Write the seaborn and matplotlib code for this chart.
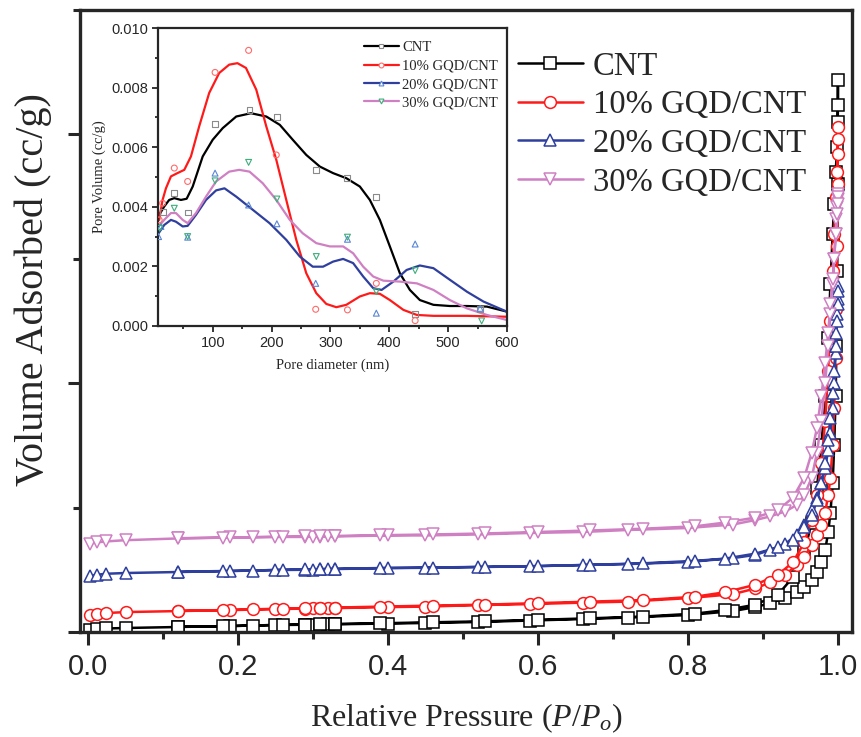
import numpy as np
import pandas as pd
import seaborn as sns
import matplotlib.pyplot as plt
import matplotlib.ticker as tick
from matplotlib.lines import Line2D

# ---- main isotherm data (relative pressure, volume adsorbed; arbitrary units) ----
p_ads = [0.003, 0.012, 0.024, 0.05, 0.12, 0.19, 0.25, 0.29, 0.30, 0.31, 0.32, 0.33,
         0.40, 0.45, 0.52, 0.59, 0.66, 0.72, 0.80, 0.86, 0.89, 0.91, 0.93, 0.945,
         0.955, 0.965, 0.972, 0.978, 0.983, 0.987, 0.99, 0.993, 0.995, 0.997, 0.998,
         0.999, 0.9995, 1.0]
p_des = [1.0, 0.9995, 0.999, 0.997, 0.995, 0.993, 0.99, 0.987, 0.983, 0.978, 0.972,
         0.965, 0.955, 0.94, 0.92, 0.89, 0.85, 0.81, 0.74, 0.67, 0.60, 0.53, 0.46,
         0.39, 0.33, 0.31, 0.29, 0.26, 0.22, 0.18, 0.12]

cnt_ads = [0.8, 1.2, 1.4, 1.6, 2.0, 2.4, 2.8, 2.9, 3.0, 3.0, 3.1, 3.1, 3.4, 3.6, 4.0,
           4.6, 5.2, 5.8, 6.8, 8.4, 10.0, 11.6, 13.8, 16, 18, 21, 24, 28, 33, 40, 48,
           60, 75, 95, 115, 145, 180, 222]
cnt_des = [212, 205, 195, 185, 172, 160, 140, 118, 95, 75, 58, 44, 32, 22, 15, 11,
           8.8, 7.4, 6.2, 5.5, 4.9, 4.3, 3.9, 3.5, 3.2, 3.1, 3.0, 2.9, 2.6, 2.3, 2.1]

g10_ads = [6.8, 7.2, 7.6, 8.0, 8.4, 8.8, 9.2, 9.4, 9.5, 9.5, 9.6, 9.6, 10.0, 10.2,
           10.8, 11.2, 11.8, 12.2, 13.6, 15.2, 17.5, 20, 23, 27, 30, 35, 39, 43, 48,
           55, 62, 75, 90, 110, 130, 155, 180, 203]
g10_des = [198, 192, 185, 175, 160, 145, 125, 105, 85, 68, 55, 45, 36, 28, 23, 19,
           16, 14.2, 12.8, 12.2, 11.6, 11.0, 10.6, 10.2, 9.8, 9.7, 9.6, 9.4, 9.1, 8.8, 8.5]

g20_ads = [22.5, 23.0, 23.4, 23.7, 24.1, 24.5, 24.9, 25.0, 25.1, 25.2, 25.3, 25.3,
           25.7, 25.8, 26.1, 26.4, 26.9, 27.3, 28.1, 29.7, 31, 33, 35.5, 39, 43, 49,
           54, 60, 66, 73, 80, 90, 100, 112, 120, 128, 134, 139]
g20_des = [137, 132, 125, 115, 105, 96, 86, 77, 68, 60, 53, 47, 42, 37, 34, 31.5,
           29.5, 28.6, 27.6, 27.0, 26.5, 26.2, 25.9, 25.7, 25.4, 25.3, 25.2, 25.0,
           24.7, 24.5, 24.2]

g30_ads = [35.5, 36.0, 36.4, 36.9, 37.6, 38.0, 38.2, 38.2, 38.3, 38.3, 38.4, 38.4,
           38.8, 38.8, 39.2, 39.8, 40.2, 41.0, 41.8, 43.2, 45, 46.5, 48.5, 51, 55, 62,
           72, 85, 100, 115, 128, 140, 150, 160, 166, 171, 174, 176]
g30_des = [175, 172, 168, 160, 150, 142, 132, 120, 108, 95, 82, 72, 62, 54, 49, 46,
           44, 42.5, 41.5, 40.8, 40.2, 39.6, 39.2, 38.9, 38.6, 38.5, 38.4, 38.3, 38.1,
           37.9, 37.7]

labels = ["CNT", "10% GQD/CNT", "20% GQD/CNT", "30% GQD/CNT"]
colors = ["#000000", "#ff1a1a", "#2e3f9e", "#cf80c2"]
markers = ["s", "o", "^", "v"]

# ---- inset: pore size distribution ----
# measured points
d_cnt = [14.8, 34.7, 57.4, 104, 162.5, 209, 276, 328, 378, 444, 554.5]
v_cnt = [0.00384, 0.00446, 0.00381, 0.00678, 0.00726, 0.00701, 0.00522, 0.00496,
         0.00434, 0.00039, 0.00056]
d_g10 = [9, 14.8, 34.7, 57.4, 104, 161, 208, 275, 329, 378, 444]
v_g10 = [0.00356, 0.00412, 0.0053, 0.00485, 0.00851, 0.00925, 0.00574, 0.00056,
         0.00054, 0.00143, 0.00018]
d_g20 = [8, 12, 57.4, 104, 161, 209, 275, 329, 378, 444, 554.5]
v_g20 = [0.0030, 0.00334, 0.00298, 0.00513, 0.00406, 0.00343, 0.00143, 0.00291,
         0.00043, 0.00275, 0.00059]
d_g30 = [10, 34.7, 57.4, 104, 161, 209, 276, 329, 378, 444, 557]
v_g30 = [0.00328, 0.00395, 0.0030, 0.00487, 0.00549, 0.00426, 0.00233, 0.00298,
         0.00115, 0.00186, 0.00017]

# smoothed curves
cd_cnt = [9, 17.6, 26, 34.7, 46, 55.7, 66, 83, 100, 117, 140, 165, 191, 214, 236, 259,
          282, 304.5, 327, 350, 367, 384, 401, 418, 435, 452, 475, 503, 532, 566, 600]
cv_cnt = [0.00373, 0.00401, 0.00423, 0.00429, 0.00423, 0.00427, 0.00468, 0.00569,
          0.00625, 0.00664, 0.00703, 0.00714, 0.00703, 0.00675, 0.00625, 0.00574,
          0.00535, 0.00513, 0.00496, 0.00468, 0.00423, 0.00356, 0.00267, 0.00177,
          0.00121, 0.00087, 0.00071, 0.00067, 0.00067, 0.00065, 0.00048]
cd_g10 = [9, 14.8, 20.5, 29, 40, 51.7, 63, 77, 94, 111, 128, 142, 156.5, 174, 191, 208,
          225, 242, 259, 276, 293, 310, 327, 350, 367, 384, 401, 424, 447, 475, 532, 600]
cv_g10 = [0.00356, 0.00423, 0.00462, 0.00502, 0.00513, 0.00524, 0.00569, 0.0067,
          0.00782, 0.00849, 0.00877, 0.00882, 0.00866, 0.00793, 0.0067, 0.00558,
          0.00423, 0.00289, 0.00177, 0.0011, 0.00074, 0.00063, 0.00071, 0.00099,
          0.0011, 0.00108, 0.00087, 0.00054, 0.00037, 0.00034, 0.00034, 0.00031]
cd_g20 = [8, 17.6, 29, 37.5, 49, 57.4, 71.6, 88.6, 105.7, 120, 140, 168, 196.6, 225,
          248, 270, 287.5, 304.5, 321.6, 338.6, 355.7, 372.7, 387, 407, 429.5, 452,
          475, 503, 532, 560, 600]
cv_g20 = [0.00311, 0.00339, 0.00356, 0.0035, 0.00334, 0.00336, 0.00373, 0.00423,
          0.00455, 0.00462, 0.00434, 0.0039, 0.00345, 0.00289, 0.00233, 0.00199,
          0.00199, 0.00216, 0.00225, 0.00211, 0.00166, 0.00127, 0.00121, 0.00149,
          0.00188, 0.00203, 0.00194, 0.00155, 0.00115, 0.00082, 0.00048]
cd_g30 = [8, 17.6, 29, 37.5, 49, 57.4, 71.6, 88.6, 105.7, 128, 145, 162.5, 185, 208,
          231, 253, 276, 299, 321.6, 338.6, 355.7, 372.7, 390, 418, 447, 475, 503,
          532, 566, 600]
cv_g30 = [0.00334, 0.00356, 0.00379, 0.00379, 0.00356, 0.00345, 0.00379, 0.00434,
          0.00485, 0.00518, 0.00524, 0.00518, 0.00479, 0.00423, 0.00356, 0.00311,
          0.00278, 0.00267, 0.00267, 0.00244, 0.00199, 0.00166, 0.00152, 0.00149,
          0.00143, 0.00121, 0.00087, 0.00059, 0.00037, 0.0002]

pt_colors = ["#8a8a8a", "#ff6a6a", "#5a86d6", "#3fae7c"]

SERIF = "Liberation Serif"
SANS = "Liberation Sans"


def main():
    sns.set_style("ticks")
    plt.rcParams["font.family"] = [SANS, "DejaVu Sans"]
    plt.rcParams["mathtext.fontset"] = "custom"
    plt.rcParams["mathtext.rm"] = SERIF
    plt.rcParams["mathtext.it"] = SERIF + ":italic"

    fig = plt.figure(figsize=(8.61, 7.37), dpi=100)
    ax = fig.add_axes([0.0929, 0.1425, 0.8966, 0.8439])

    ads = [cnt_ads, g10_ads, g20_ads, g30_ads]
    des = [cnt_des, g10_des, g20_des, g30_des]
    for i in range(4):
        df = pd.DataFrame({"p": p_ads + p_des, "v": ads[i] + des[i]})
        sns.lineplot(data=df, x="p", y="v", sort=False, estimator=None, ax=ax,
                     color=colors[i], marker=markers[i], markersize=8.5,
                     markerfacecolor="white", markeredgecolor=colors[i],
                     markeredgewidth=1.1, linewidth=1.8, label=labels[i])

    ax.set_xlim(-0.0107, 1.0187)
    ax.set_ylim(0, 250)
    ax.xaxis.set_major_locator(tick.MultipleLocator(0.2))
    ax.xaxis.set_minor_locator(tick.MultipleLocator(0.1))
    ax.yaxis.set_major_locator(tick.MultipleLocator(100))
    ax.yaxis.set_minor_locator(tick.MultipleLocator(50))
    ax.xaxis.set_major_formatter(tick.FormatStrFormatter("%.1f"))
    ax.tick_params(axis="both", which="major", direction="out", length=9, width=2.2,
                   labelsize=21, pad=6)
    ax.tick_params(axis="both", which="minor", direction="out", length=5, width=2.2)
    ax.tick_params(axis="y", labelleft=False)
    for s in ax.spines.values():
        s.set_linewidth(2.4)
    ax.set_xlabel(r"Relative Pressure ($P/P_o$)", family=SERIF, fontsize=23, labelpad=15)
    ax.set_ylabel("Volume Adsorbed (cc/g)", family=SERIF, fontsize=29)
    ax.yaxis.set_label_coords(-0.036, 0.55)

    ax.legend(loc="upper left", bbox_to_anchor=(0.55, 0.955), frameon=False,
              prop={"family": SERIF, "size": 23.5}, handlelength=2.0, handletextpad=0.3,
              labelspacing=0.25, borderaxespad=0)

    # ---- inset ----
    ins = fig.add_axes([0.1835, 0.5577, 0.4053, 0.4043])
    pts = [(d_cnt, v_cnt), (d_g10, v_g10), (d_g20, v_g20), (d_g30, v_g30)]
    crv = [(cd_cnt, cv_cnt), (cd_g10, cv_g10), (cd_g20, cv_g20), (cd_g30, cv_g30)]
    for i in range(4):
        sns.scatterplot(x=pts[i][0], y=pts[i][1], ax=ins, marker=markers[i], s=18,
                        color=pt_colors[i], facecolor="none", edgecolor=pt_colors[i],
                        linewidth=0.8, zorder=3)
        sns.lineplot(x=crv[i][0], y=crv[i][1], ax=ins, sort=False, estimator=None,
                     color=colors[i], linewidth=1.6)
    ins.set_xlim(7, 600)
    ins.set_ylim(0, 0.010)
    ins.xaxis.set_major_locator(tick.MultipleLocator(100))
    ins.xaxis.set_minor_locator(tick.MultipleLocator(50))
    ins.yaxis.set_major_locator(tick.MultipleLocator(0.002))
    ins.yaxis.set_minor_locator(tick.MultipleLocator(0.001))
    ins.yaxis.set_major_formatter(tick.FormatStrFormatter("%.3f"))
    ins.tick_params(axis="both", which="major", direction="out", length=4, width=1.3,
                    labelsize=10.5, pad=3)
    ins.tick_params(axis="both", which="minor", direction="out", length=2.5, width=1.3)
    for s in ins.spines.values():
        s.set_linewidth(1.6)
    ins.set_xlabel("Pore diameter (nm)", family=SERIF, fontsize=10.5, labelpad=6)
    ins.set_ylabel("Pore Volume (cc/g)", family=SERIF, fontsize=10.5, labelpad=4)

    handles = [Line2D([], [], color=colors[i], lw=1.6, marker=markers[i], markersize=3.5,
                      markerfacecolor="white", markeredgecolor=pt_colors[i],
                      markeredgewidth=0.8) for i in range(4)]
    ins.legend(handles, labels, loc="upper right", bbox_to_anchor=(0.99, 0.975),
               frameon=False, prop={"family": SERIF, "size": 10.5}, handlelength=2.4,
               handletextpad=0.2, labelspacing=0.35, borderaxespad=0)

    fig.savefig("out.png", dpi=100)


if __name__ == "__main__":
    main()
